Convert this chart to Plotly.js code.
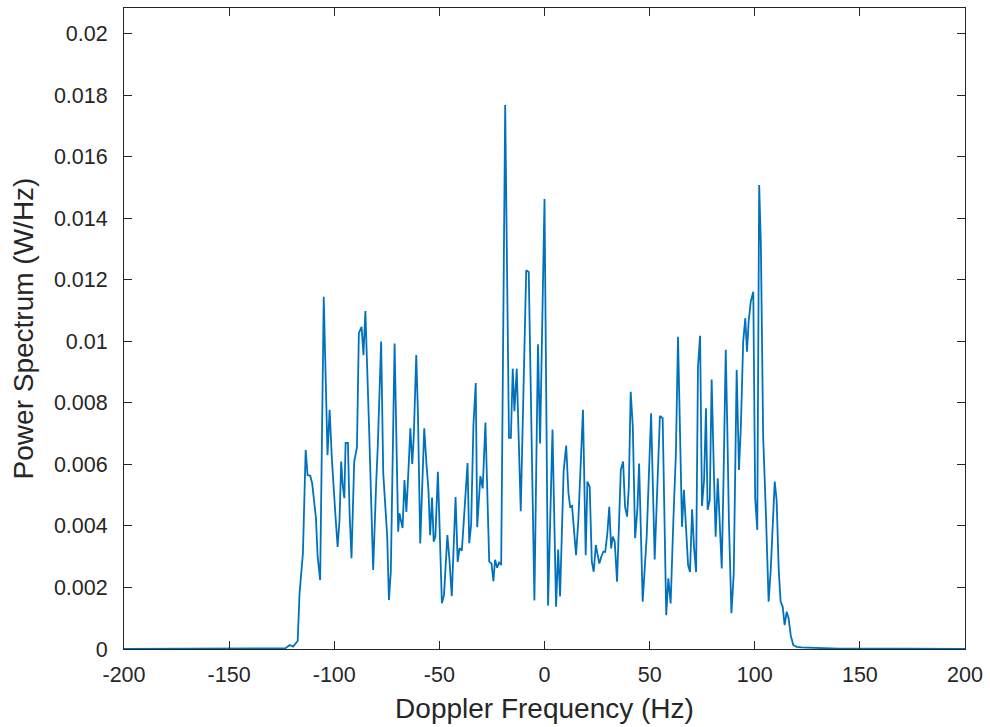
<!DOCTYPE html>
<html>
<head>
<meta charset="utf-8">
<script src="https://cdn.plot.ly/plotly-3.0.1.min.js"></script>
<style>html,body{margin:0;padding:0;background:#fff;}#chart{width:990px;height:727px;}</style>
</head>
<body>
<div id="chart"></div>
<script>
const freqHz = [-200, -160, -130, -125, -123.3, -121.2, -119.6, -117.4, -116.5, -114.9,
 -113.6, -112.7, -111.4, -110.5, -109.5, -108.7, -107.9, -106.7, -105.0, -103.9,
 -103.2, -102.2, -101.1, -99.5, -98.4, -97.5, -96.7, -96.0, -95.2, -94.6,
 -93.5, -92.7, -91.8, -90.5, -89.2, -88.3, -87.0, -86.1, -85.2, -83.4,
 -81.5, -80.0, -79.3, -77.7, -76.7, -75.5, -74.8, -74.0, -73.1, -71.3,
 -69.6, -69.0, -68.2, -67.5, -66.6, -65.7, -64.7, -63.8, -62.9, -62.2,
 -61.0, -60.2, -59.1, -58.3, -57.2, -56.1, -55.2, -54.4, -53.5, -52.7,
 -51.9, -50.7, -49.6, -48.8, -47.8, -46.2, -45.2, -44.1, -42.3, -41.3,
 -40.4, -39.3, -36.6, -35.8, -34.9, -33.8, -32.7, -32.0, -30.5, -29.4,
 -28.1, -26.3, -25.2, -24.3, -23.5, -22.5, -21.6, -20.6, -18.7, -16.9,
 -16.0, -15.1, -14.3, -13.2, -11.3, -8.7, -7.5, -4.8, -3.1, -2.1,
 0.0, 1.7, 3.8, 5.5, 6.5, 7.4, 9.1, 10.3, 11.4, 12.2,
 13.1, 14.1, 15.0, 16.1, 18.3, 19.6, 20.4, 21.5, 22.5, 23.4,
 24.4, 25.3, 26.1, 27.0, 28.0, 28.9, 29.9, 30.8, 31.7, 32.5,
 33.4, 34.5, 36.3, 37.4, 38.3, 39.3, 40.1, 41.0, 42.0, 43.1,
 44.2, 45.0, 46.7, 48.6, 50.7, 52.4, 53.7, 54.9, 56.2, 57.9,
 58.9, 60.0, 61.3, 62.5, 63.5, 64.4, 65.4, 66.3, 67.3, 68.3,
 69.2, 70.2, 71.1, 72.1, 73.0, 74.0, 74.9, 75.9, 76.8, 77.6,
 78.6, 79.5, 80.5, 81.4, 82.4, 83.3, 84.3, 85.2, 86.2, 86.9,
 87.7, 88.9, 90.0, 91.4, 92.5, 93.4, 94.5, 95.5, 96.3, 97.1,
 98.1, 99.3, 100.2, 101.2, 102.1, 102.9, 104.0, 105.3, 106.6, 107.6,
 109.5, 110.4, 111.4, 112.3, 113.3, 114.2, 115.2, 116.1, 117.1, 118.3,
 119.9, 122.3, 126.2, 140, 170, 200];

const powerSpectrum = [0, 0.00001, 0.00001, 0.00002, 0.00002, 0.00013, 0.00008, 0.00026, 0.00181, 0.00311,
 0.00647, 0.00565, 0.00563, 0.00538, 0.00462, 0.00425, 0.00300, 0.00224, 0.01145, 0.00842,
 0.00630, 0.00777, 0.00614, 0.00441, 0.00332, 0.00419, 0.00609, 0.00533, 0.00490, 0.00670,
 0.00670, 0.00441, 0.00295, 0.00609, 0.00655, 0.01026, 0.01047, 0.00955, 0.01098, 0.00712,
 0.00257, 0.00549, 0.00657, 0.00999, 0.00571, 0.00441, 0.00364, 0.00159, 0.00251, 0.00993,
 0.00381, 0.00441, 0.00419, 0.00393, 0.00549, 0.00445, 0.00582, 0.00717, 0.00601, 0.00686,
 0.00955, 0.00767, 0.00343, 0.00517, 0.00717, 0.00598, 0.00517, 0.00370, 0.00492, 0.00349,
 0.00365, 0.00576, 0.00343, 0.00149, 0.00175, 0.00370, 0.00289, 0.00172, 0.00494, 0.00283,
 0.00328, 0.00320, 0.00604, 0.00344, 0.00403, 0.00729, 0.00864, 0.00396, 0.00562, 0.00522,
 0.00736, 0.00284, 0.00278, 0.00220, 0.00290, 0.00264, 0.00281, 0.00273, 0.01768, 0.00686,
 0.00686, 0.00911, 0.00773, 0.00911, 0.00448, 0.01231, 0.01225, 0.00158, 0.00990, 0.00668,
 0.01462, 0.00141, 0.00713, 0.00137, 0.00323, 0.00171, 0.00578, 0.00661, 0.00506, 0.00462,
 0.00465, 0.00365, 0.00305, 0.00419, 0.00777, 0.00305, 0.00544, 0.00527, 0.00284, 0.00251,
 0.00338, 0.00305, 0.00278, 0.00300, 0.00316, 0.00316, 0.00376, 0.00462, 0.00327, 0.00365,
 0.00349, 0.00219, 0.00582, 0.00609, 0.00462, 0.00430, 0.00527, 0.00836, 0.00722, 0.00360,
 0.00457, 0.00603, 0.00154, 0.00365, 0.00766, 0.00291, 0.00549, 0.00757, 0.00750, 0.00110,
 0.00230, 0.00148, 0.00419, 0.00636, 0.01015, 0.00744, 0.00397, 0.00517, 0.00376, 0.00273,
 0.00250, 0.00454, 0.00332, 0.00250, 0.00917, 0.01018, 0.00465, 0.00549, 0.00782, 0.00452,
 0.00484, 0.00876, 0.00592, 0.00365, 0.00555, 0.00430, 0.00262, 0.00571, 0.00972, 0.00733,
 0.00419, 0.00116, 0.00244, 0.00907, 0.00582, 0.00722, 0.00999, 0.01075, 0.00966, 0.01064,
 0.01129, 0.01161, 0.00490, 0.00387, 0.01508, 0.01318, 0.00690, 0.00441, 0.00154, 0.00257,
 0.00544, 0.00484, 0.00257, 0.00154, 0.00137, 0.00078, 0.00121, 0.00100, 0.00045, 0.00013,
 0.00007, 0.00005, 0.00004, 0.00001, 0.00001, 0];

const xTickVals = [-200, -150, -100, -50, 0, 50, 100, 150, 200];
const xTickText = ["-200", "-150", "-100", "-50", "0", "50", "100", "150", "200"];
const yTickVals = [0, 0.002, 0.004, 0.006, 0.008, 0.01, 0.012, 0.014, 0.016, 0.018, 0.02];
const yTickText = ["0", "0.002", "0.004", "0.006", "0.008", "0.01", "0.012", "0.014", "0.016", "0.018", "0.02"];

const xLabel = "Doppler Frequency (Hz)";
const yLabel = "Power Spectrum (W/Hz)";

const FONT = "Liberation Sans, Arial, Helvetica, sans-serif";
const INK = "#262626";

const trace = {
  x: freqHz,
  y: powerSpectrum,
  type: "scatter",
  mode: "lines",
  line: {color: "#0072BD", width: 1.8},
  hoverinfo: "x+y"
};

const axisCommon = {
  showgrid: false,
  zeroline: false,
  showline: true,
  linecolor: INK,
  linewidth: 1,
  mirror: "allticks",
  ticks: "inside",
  ticklen: 8,
  tickwidth: 1,
  tickcolor: INK,
  tickfont: {family: FONT, size: 21.5, color: INK},
  tickmode: "array"
};

const layout = {
  width: 990,
  height: 727,
  margin: {l: 124, r: 25, t: 8, b: 78},
  paper_bgcolor: "#ffffff",
  plot_bgcolor: "#ffffff",
  showlegend: false,
  xaxis: Object.assign({}, axisCommon, {
    range: [-200, 200],
    tickvals: xTickVals,
    ticktext: xTickText,
    ticklabelstandoff: 6,
    title: {text: xLabel, font: {family: FONT, size: 28, color: INK}, standoff: 12}
  }),
  yaxis: Object.assign({}, axisCommon, {
    range: [0, 0.02083],
    tickvals: yTickVals,
    ticktext: yTickText,
    ticklabelstandoff: 11,
    title: {text: yLabel, font: {family: FONT, size: 28, color: INK}, standoff: 12}
  })
};

Plotly.newPlot("chart", [trace], layout, {displayModeBar: false, staticPlot: true});
</script>
</body>
</html>
